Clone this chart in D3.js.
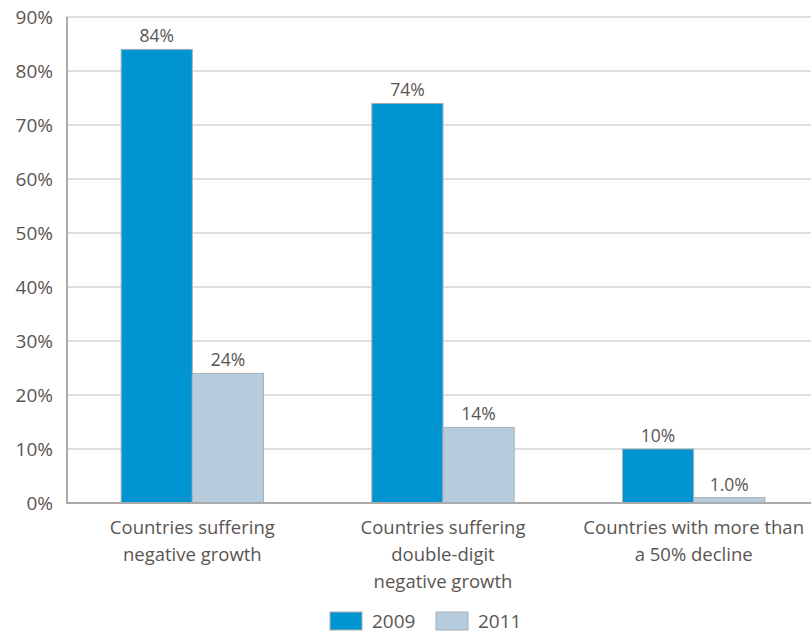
<!DOCTYPE html>
<html>
<head>
<meta charset="utf-8">
<script src="https://cdn.jsdelivr.net/npm/d3@7"></script>
<style>
  body { margin: 0; background: #fff; }
  text { font-family: "Open Sans", "Noto Sans", sans-serif; fill: #5a5552; }
</style>
</head>
<body>
<script>
const categories = [
  ["Countries suffering", "negative growth"],
  ["Countries suffering", "double-digit", "negative growth"],
  ["Countries with more than", "a 50% decline"]
];
const seriesNames = ["2009", "2011"];
const values2009 = [84, 74, 10];
const values2011 = [24, 14, 1];
const valueLabels2009 = ["84%", "74%", "10%"];
const valueLabels2011 = ["24%", "14%", "1.0%"];
const yTicks = [0, 10, 20, 30, 40, 50, 60, 70, 80, 90];
const colors = ["#0095d0", "#b6ccdc"];

const width = 811, height = 634;
const svg = d3.select("body").append("svg")
  .attr("width", width)
  .attr("height", height);

const x0 = d3.scaleBand()
  .domain(d3.range(categories.length))
  .range([67, 819])
  .paddingInner(0.432)
  .paddingOuter(0.216);

const x1 = d3.scaleBand()
  .domain(seriesNames)
  .range([0, x0.bandwidth()]);

const y = d3.scaleLinear().domain([0, 90]).range([503, 17]);

// grid lines
svg.append("g")
  .selectAll("line")
  .data(yTicks.filter(d => d > 0))
  .join("line")
  .attr("x1", 66).attr("x2", width)
  .attr("y1", d => y(d)).attr("y2", d => y(d))
  .attr("stroke", "#d4d4d4")
  .attr("stroke-width", 1.5);

// y tick labels
svg.append("g")
  .selectAll("text")
  .data(yTicks)
  .join("text")
  .attr("x", 53)
  .attr("y", d => y(d))
  .attr("dy", "0.35em")
  .attr("text-anchor", "end")
  .attr("font-size", 19)
  .text(d => d + "%");

// bars
const rows = categories.map((c, i) => [
  { key: "2009", i, v: values2009[i], label: valueLabels2009[i] },
  { key: "2011", i, v: values2011[i], label: valueLabels2011[i] }
]);

const groups = svg.append("g")
  .selectAll("g")
  .data(rows)
  .join("g")
  .attr("transform", (d, i) => `translate(${x0(i)},0)`);

groups.selectAll("rect")
  .data(d => d)
  .join("rect")
  .attr("x", d => x1(d.key))
  .attr("y", d => y(d.v))
  .attr("width", x1.bandwidth())
  .attr("height", d => y(0) - y(d.v))
  .attr("fill", (d, j) => colors[j])
  .attr("stroke", "#a9b0b5")
  .attr("stroke-width", 1);

groups.selectAll("text")
  .data(d => d)
  .join("text")
  .attr("x", d => x1(d.key) + x1.bandwidth() / 2)
  .attr("y", d => y(d.v) - 7)
  .attr("text-anchor", "middle")
  .attr("font-size", 17.5)
  .text(d => d.label);

// axes lines
svg.append("line")
  .attr("x1", 66).attr("x2", width)
  .attr("y1", y(0)).attr("y2", y(0))
  .attr("stroke", "#aaaaaa").attr("stroke-width", 2);
svg.append("line")
  .attr("x1", 67).attr("x2", 67)
  .attr("y1", y(90)).attr("y2", y(0))
  .attr("stroke", "#aaaaaa").attr("stroke-width", 2);

// category labels
svg.append("g")
  .selectAll("text")
  .data(categories)
  .join("text")
  .attr("x", (d, i) => x0(i) + x0.bandwidth() / 2)
  .attr("y", 534)
  .attr("text-anchor", "middle")
  .attr("font-size", 18.5)
  .selectAll("tspan")
  .data(d => d)
  .join("tspan")
  .attr("x", function() { return this.parentNode.getAttribute("x"); })
  .attr("dy", (d, k) => k === 0 ? 0 : 27)
  .text(d => d);

// legend
const legend = svg.append("g")
  .selectAll("g")
  .data(seriesNames)
  .join("g")
  .attr("transform", (d, i) => `translate(${330 + i * 106},612)`);
legend.append("rect")
  .attr("width", 32).attr("height", 18)
  .attr("fill", (d, i) => colors[i])
  .attr("stroke", "#a9b0b5");
legend.append("text")
  .attr("x", 42).attr("y", 9)
  .attr("dy", "0.35em")
  .attr("font-size", 19)
  .text(d => d);
</script>
</body>
</html>
